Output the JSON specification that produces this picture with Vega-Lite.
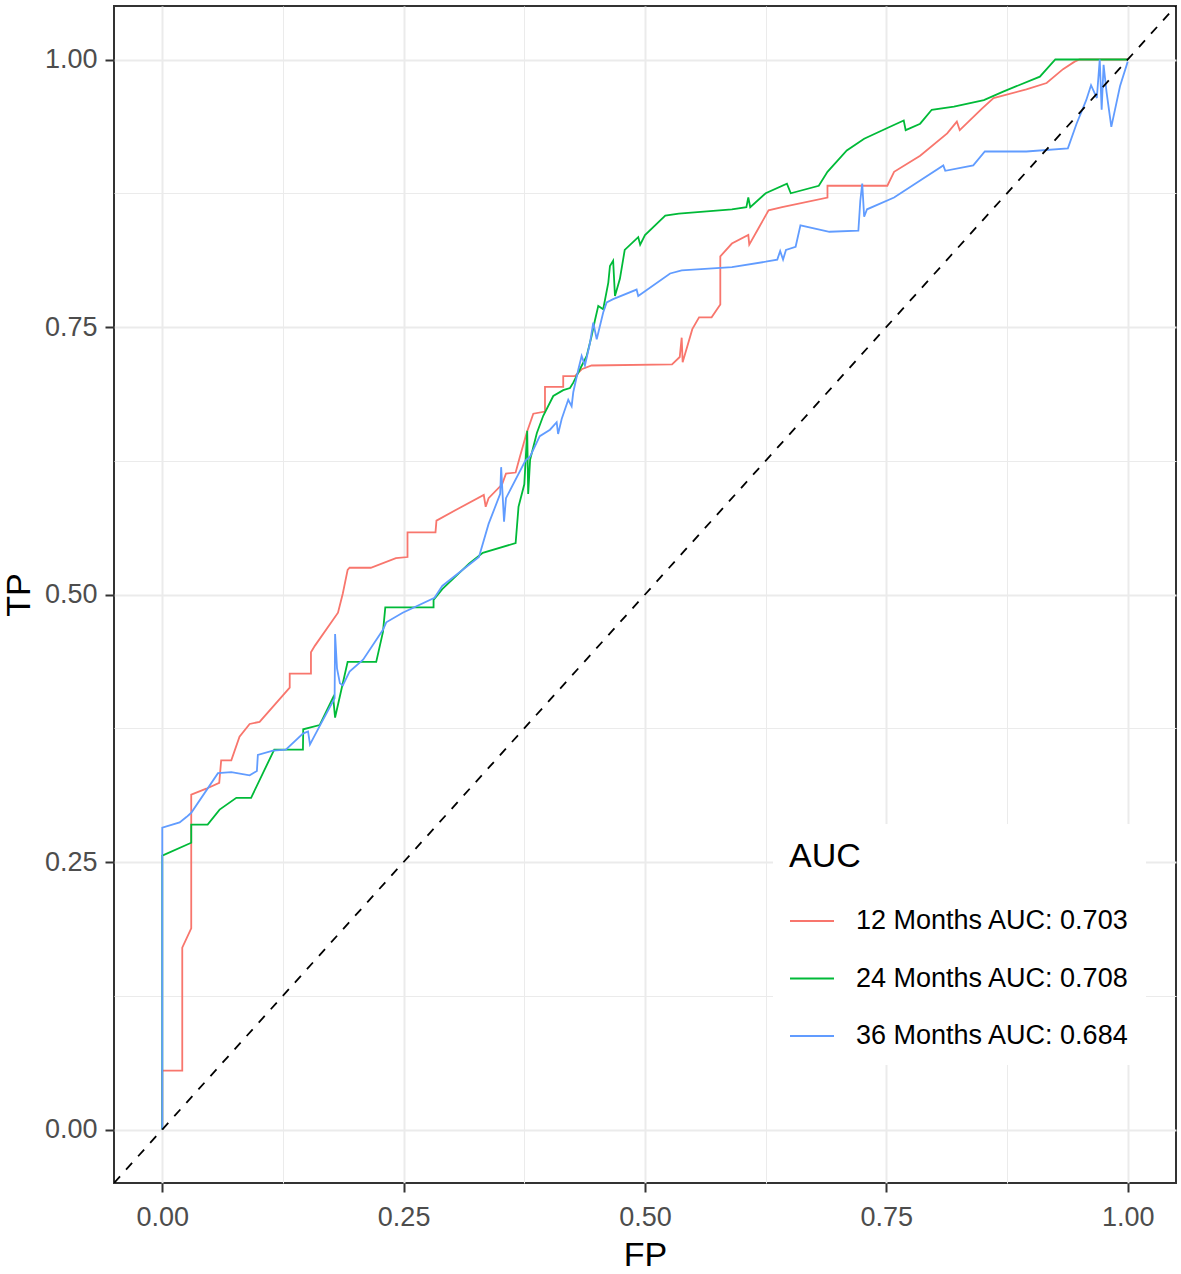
{
  "$schema": "https://vega.github.io/schema/vega-lite/v6.json",
  "width": 1062,
  "height": 1177,
  "autosize": {"type": "none"},
  "padding": {"left": 114, "top": 6, "right": 5, "bottom": 91},
  "background": "white",
  "config": {
    "font": "Liberation Sans",
    "view": {"stroke": "#333333", "strokeWidth": 2},
    "axis": {
      "domain": false,
      "grid": true,
      "gridColor": "#EBEBEB",
      "gridWidth": {"condition": {"test": "(datum.value * 4) % 1 !== 0", "value": 1}, "value": 2},
      "tickColor": "#333333",
      "tickWidth": 2,
      "tickSize": 9,
      "tickOpacity": {"condition": {"test": "(datum.value * 4) % 1 !== 0", "value": 0}, "value": 1},
      "labelExpr": "(datum.value * 4) % 1 === 0 ? format(datum.value, '.2f') : ''",
      "labelFontSize": 27,
      "labelColor": "#4D4D4D",
      "labelPadding": 8,
      "titleFontSize": 34,
      "titleFontWeight": "normal",
      "titleColor": "black"
    },
    "legend": {
      "orient": "none",
      "legendX": 659,
      "legendY": 818,
      "padding": 16,
      "fillColor": "white",
      "titleFontSize": 34,
      "titleFontWeight": "normal",
      "titleColor": "black",
      "titlePadding": 24,
      "labelFontSize": 27,
      "labelColor": "black",
      "labelLimit": 0,
      "labelOffset": 21,
      "symbolType": "stroke",
      "symbolSize": 1936,
      "symbolStrokeWidth": 2,
      "rowPadding": 21.5
    }
  },
  "datasets": {
    "roc": [
      {"model": "12 Months AUC: 0.703", "step": 1, "fp": 0, "tp": 0},
      {"model": "12 Months AUC: 0.703", "step": 2, "fp": 0, "tp": 0.055},
      {"model": "12 Months AUC: 0.703", "step": 3, "fp": 0.0207, "tp": 0.055},
      {"model": "12 Months AUC: 0.703", "step": 4, "fp": 0.0207, "tp": 0.17},
      {"model": "12 Months AUC: 0.703", "step": 5, "fp": 0.03, "tp": 0.188},
      {"model": "12 Months AUC: 0.703", "step": 6, "fp": 0.03, "tp": 0.313},
      {"model": "12 Months AUC: 0.703", "step": 7, "fp": 0.0456, "tp": 0.3185},
      {"model": "12 Months AUC: 0.703", "step": 8, "fp": 0.059, "tp": 0.324},
      {"model": "12 Months AUC: 0.703", "step": 9, "fp": 0.061, "tp": 0.345},
      {"model": "12 Months AUC: 0.703", "step": 10, "fp": 0.0715, "tp": 0.345},
      {"model": "12 Months AUC: 0.703", "step": 11, "fp": 0.08, "tp": 0.367},
      {"model": "12 Months AUC: 0.703", "step": 12, "fp": 0.0905, "tp": 0.379},
      {"model": "12 Months AUC: 0.703", "step": 13, "fp": 0.1008, "tp": 0.381},
      {"model": "12 Months AUC: 0.703", "step": 14, "fp": 0.132, "tp": 0.413},
      {"model": "12 Months AUC: 0.703", "step": 15, "fp": 0.132, "tp": 0.426},
      {"model": "12 Months AUC: 0.703", "step": 16, "fp": 0.154, "tp": 0.426},
      {"model": "12 Months AUC: 0.703", "step": 17, "fp": 0.154, "tp": 0.446},
      {"model": "12 Months AUC: 0.703", "step": 18, "fp": 0.158, "tp": 0.452},
      {"model": "12 Months AUC: 0.703", "step": 19, "fp": 0.182, "tp": 0.483},
      {"model": "12 Months AUC: 0.703", "step": 20, "fp": 0.187, "tp": 0.501},
      {"model": "12 Months AUC: 0.703", "step": 21, "fp": 0.192, "tp": 0.523},
      {"model": "12 Months AUC: 0.703", "step": 22, "fp": 0.194, "tp": 0.525},
      {"model": "12 Months AUC: 0.703", "step": 23, "fp": 0.216, "tp": 0.525},
      {"model": "12 Months AUC: 0.703", "step": 24, "fp": 0.242, "tp": 0.534},
      {"model": "12 Months AUC: 0.703", "step": 25, "fp": 0.254, "tp": 0.535},
      {"model": "12 Months AUC: 0.703", "step": 26, "fp": 0.254, "tp": 0.558},
      {"model": "12 Months AUC: 0.703", "step": 27, "fp": 0.283, "tp": 0.558},
      {"model": "12 Months AUC: 0.703", "step": 28, "fp": 0.284, "tp": 0.569},
      {"model": "12 Months AUC: 0.703", "step": 29, "fp": 0.304, "tp": 0.579},
      {"model": "12 Months AUC: 0.703", "step": 30, "fp": 0.333, "tp": 0.593},
      {"model": "12 Months AUC: 0.703", "step": 31, "fp": 0.335, "tp": 0.582},
      {"model": "12 Months AUC: 0.703", "step": 32, "fp": 0.338, "tp": 0.59},
      {"model": "12 Months AUC: 0.703", "step": 33, "fp": 0.352, "tp": 0.603},
      {"model": "12 Months AUC: 0.703", "step": 34, "fp": 0.356, "tp": 0.613},
      {"model": "12 Months AUC: 0.703", "step": 35, "fp": 0.366, "tp": 0.614},
      {"model": "12 Months AUC: 0.703", "step": 36, "fp": 0.3705, "tp": 0.629},
      {"model": "12 Months AUC: 0.703", "step": 37, "fp": 0.3774, "tp": 0.651},
      {"model": "12 Months AUC: 0.703", "step": 38, "fp": 0.3843, "tp": 0.669},
      {"model": "12 Months AUC: 0.703", "step": 39, "fp": 0.3964, "tp": 0.671},
      {"model": "12 Months AUC: 0.703", "step": 40, "fp": 0.3964, "tp": 0.694},
      {"model": "12 Months AUC: 0.703", "step": 41, "fp": 0.4153, "tp": 0.694},
      {"model": "12 Months AUC: 0.703", "step": 42, "fp": 0.4153, "tp": 0.704},
      {"model": "12 Months AUC: 0.703", "step": 43, "fp": 0.4274, "tp": 0.704},
      {"model": "12 Months AUC: 0.703", "step": 44, "fp": 0.4344, "tp": 0.7105},
      {"model": "12 Months AUC: 0.703", "step": 45, "fp": 0.4447, "tp": 0.714},
      {"model": "12 Months AUC: 0.703", "step": 46, "fp": 0.528, "tp": 0.715},
      {"model": "12 Months AUC: 0.703", "step": 47, "fp": 0.536, "tp": 0.722},
      {"model": "12 Months AUC: 0.703", "step": 48, "fp": 0.538, "tp": 0.74},
      {"model": "12 Months AUC: 0.703", "step": 49, "fp": 0.539, "tp": 0.717},
      {"model": "12 Months AUC: 0.703", "step": 50, "fp": 0.549, "tp": 0.748},
      {"model": "12 Months AUC: 0.703", "step": 51, "fp": 0.556, "tp": 0.759},
      {"model": "12 Months AUC: 0.703", "step": 52, "fp": 0.569, "tp": 0.759},
      {"model": "12 Months AUC: 0.703", "step": 53, "fp": 0.578, "tp": 0.771},
      {"model": "12 Months AUC: 0.703", "step": 54, "fp": 0.578, "tp": 0.816},
      {"model": "12 Months AUC: 0.703", "step": 55, "fp": 0.59, "tp": 0.828},
      {"model": "12 Months AUC: 0.703", "step": 56, "fp": 0.607, "tp": 0.836},
      {"model": "12 Months AUC: 0.703", "step": 57, "fp": 0.608, "tp": 0.827},
      {"model": "12 Months AUC: 0.703", "step": 58, "fp": 0.618, "tp": 0.843},
      {"model": "12 Months AUC: 0.703", "step": 59, "fp": 0.628, "tp": 0.859},
      {"model": "12 Months AUC: 0.703", "step": 60, "fp": 0.642, "tp": 0.862},
      {"model": "12 Months AUC: 0.703", "step": 61, "fp": 0.689, "tp": 0.871},
      {"model": "12 Months AUC: 0.703", "step": 62, "fp": 0.689, "tp": 0.882},
      {"model": "12 Months AUC: 0.703", "step": 63, "fp": 0.751, "tp": 0.882},
      {"model": "12 Months AUC: 0.703", "step": 64, "fp": 0.758, "tp": 0.895},
      {"model": "12 Months AUC: 0.703", "step": 65, "fp": 0.785, "tp": 0.91},
      {"model": "12 Months AUC: 0.703", "step": 66, "fp": 0.813, "tp": 0.931},
      {"model": "12 Months AUC: 0.703", "step": 67, "fp": 0.823, "tp": 0.942},
      {"model": "12 Months AUC: 0.703", "step": 68, "fp": 0.826, "tp": 0.934},
      {"model": "12 Months AUC: 0.703", "step": 69, "fp": 0.849, "tp": 0.954},
      {"model": "12 Months AUC: 0.703", "step": 70, "fp": 0.861, "tp": 0.964},
      {"model": "12 Months AUC: 0.703", "step": 71, "fp": 0.895, "tp": 0.972},
      {"model": "12 Months AUC: 0.703", "step": 72, "fp": 0.916, "tp": 0.978},
      {"model": "12 Months AUC: 0.703", "step": 73, "fp": 0.933, "tp": 0.991},
      {"model": "12 Months AUC: 0.703", "step": 74, "fp": 0.945, "tp": 0.998},
      {"model": "12 Months AUC: 0.703", "step": 75, "fp": 0.95, "tp": 1},
      {"model": "12 Months AUC: 0.703", "step": 76, "fp": 1, "tp": 1},

      {"model": "24 Months AUC: 0.708", "step": 1, "fp": 0, "tp": 0},
      {"model": "24 Months AUC: 0.708", "step": 2, "fp": 0, "tp": 0.256},
      {"model": "24 Months AUC: 0.708", "step": 3, "fp": 0.03, "tp": 0.268},
      {"model": "24 Months AUC: 0.708", "step": 4, "fp": 0.03, "tp": 0.285},
      {"model": "24 Months AUC: 0.708", "step": 5, "fp": 0.047, "tp": 0.285},
      {"model": "24 Months AUC: 0.708", "step": 6, "fp": 0.0594, "tp": 0.299},
      {"model": "24 Months AUC: 0.708", "step": 7, "fp": 0.0767, "tp": 0.31},
      {"model": "24 Months AUC: 0.708", "step": 8, "fp": 0.092, "tp": 0.31},
      {"model": "24 Months AUC: 0.708", "step": 9, "fp": 0.1146, "tp": 0.3525},
      {"model": "24 Months AUC: 0.708", "step": 10, "fp": 0.116, "tp": 0.355},
      {"model": "24 Months AUC: 0.708", "step": 11, "fp": 0.1457, "tp": 0.355},
      {"model": "24 Months AUC: 0.708", "step": 12, "fp": 0.146, "tp": 0.374},
      {"model": "24 Months AUC: 0.708", "step": 13, "fp": 0.163, "tp": 0.378},
      {"model": "24 Months AUC: 0.708", "step": 14, "fp": 0.177, "tp": 0.404},
      {"model": "24 Months AUC: 0.708", "step": 15, "fp": 0.179, "tp": 0.385},
      {"model": "24 Months AUC: 0.708", "step": 16, "fp": 0.187, "tp": 0.417},
      {"model": "24 Months AUC: 0.708", "step": 17, "fp": 0.192, "tp": 0.437},
      {"model": "24 Months AUC: 0.708", "step": 18, "fp": 0.2216, "tp": 0.437},
      {"model": "24 Months AUC: 0.708", "step": 19, "fp": 0.2286, "tp": 0.465},
      {"model": "24 Months AUC: 0.708", "step": 20, "fp": 0.231, "tp": 0.488},
      {"model": "24 Months AUC: 0.708", "step": 21, "fp": 0.281, "tp": 0.488},
      {"model": "24 Months AUC: 0.708", "step": 22, "fp": 0.281, "tp": 0.495},
      {"model": "24 Months AUC: 0.708", "step": 23, "fp": 0.29, "tp": 0.505},
      {"model": "24 Months AUC: 0.708", "step": 24, "fp": 0.318, "tp": 0.529},
      {"model": "24 Months AUC: 0.708", "step": 25, "fp": 0.332, "tp": 0.539},
      {"model": "24 Months AUC: 0.708", "step": 26, "fp": 0.366, "tp": 0.548},
      {"model": "24 Months AUC: 0.708", "step": 27, "fp": 0.369, "tp": 0.582},
      {"model": "24 Months AUC: 0.708", "step": 28, "fp": 0.375, "tp": 0.603},
      {"model": "24 Months AUC: 0.708", "step": 29, "fp": 0.378, "tp": 0.653},
      {"model": "24 Months AUC: 0.708", "step": 30, "fp": 0.379, "tp": 0.594},
      {"model": "24 Months AUC: 0.708", "step": 31, "fp": 0.381, "tp": 0.626},
      {"model": "24 Months AUC: 0.708", "step": 32, "fp": 0.388, "tp": 0.651},
      {"model": "24 Months AUC: 0.708", "step": 33, "fp": 0.3946, "tp": 0.667},
      {"model": "24 Months AUC: 0.708", "step": 34, "fp": 0.405, "tp": 0.6855},
      {"model": "24 Months AUC: 0.708", "step": 35, "fp": 0.4153, "tp": 0.691},
      {"model": "24 Months AUC: 0.708", "step": 36, "fp": 0.4223, "tp": 0.693},
      {"model": "24 Months AUC: 0.708", "step": 37, "fp": 0.4257, "tp": 0.698},
      {"model": "24 Months AUC: 0.708", "step": 38, "fp": 0.4326, "tp": 0.7105},
      {"model": "24 Months AUC: 0.708", "step": 39, "fp": 0.4396, "tp": 0.723},
      {"model": "24 Months AUC: 0.708", "step": 40, "fp": 0.4447, "tp": 0.7416},
      {"model": "24 Months AUC: 0.708", "step": 41, "fp": 0.448, "tp": 0.7556},
      {"model": "24 Months AUC: 0.708", "step": 42, "fp": 0.4516, "tp": 0.7697},
      {"model": "24 Months AUC: 0.708", "step": 43, "fp": 0.4567, "tp": 0.7666},
      {"model": "24 Months AUC: 0.708", "step": 44, "fp": 0.462, "tp": 0.7915},
      {"model": "24 Months AUC: 0.708", "step": 45, "fp": 0.4637, "tp": 0.807},
      {"model": "24 Months AUC: 0.708", "step": 46, "fp": 0.467, "tp": 0.812},
      {"model": "24 Months AUC: 0.708", "step": 47, "fp": 0.4689, "tp": 0.779},
      {"model": "24 Months AUC: 0.708", "step": 48, "fp": 0.474, "tp": 0.795},
      {"model": "24 Months AUC: 0.708", "step": 49, "fp": 0.479, "tp": 0.822},
      {"model": "24 Months AUC: 0.708", "step": 50, "fp": 0.493, "tp": 0.834},
      {"model": "24 Months AUC: 0.708", "step": 51, "fp": 0.495, "tp": 0.827},
      {"model": "24 Months AUC: 0.708", "step": 52, "fp": 0.5, "tp": 0.836},
      {"model": "24 Months AUC: 0.708", "step": 53, "fp": 0.521, "tp": 0.854},
      {"model": "24 Months AUC: 0.708", "step": 54, "fp": 0.535, "tp": 0.856},
      {"model": "24 Months AUC: 0.708", "step": 55, "fp": 0.59, "tp": 0.86},
      {"model": "24 Months AUC: 0.708", "step": 56, "fp": 0.605, "tp": 0.862},
      {"model": "24 Months AUC: 0.708", "step": 57, "fp": 0.607, "tp": 0.871},
      {"model": "24 Months AUC: 0.708", "step": 58, "fp": 0.609, "tp": 0.862},
      {"model": "24 Months AUC: 0.708", "step": 59, "fp": 0.625, "tp": 0.875},
      {"model": "24 Months AUC: 0.708", "step": 60, "fp": 0.647, "tp": 0.884},
      {"model": "24 Months AUC: 0.708", "step": 61, "fp": 0.651, "tp": 0.875},
      {"model": "24 Months AUC: 0.708", "step": 62, "fp": 0.68, "tp": 0.882},
      {"model": "24 Months AUC: 0.708", "step": 63, "fp": 0.689, "tp": 0.895},
      {"model": "24 Months AUC: 0.708", "step": 64, "fp": 0.709, "tp": 0.915},
      {"model": "24 Months AUC: 0.708", "step": 65, "fp": 0.727, "tp": 0.926},
      {"model": "24 Months AUC: 0.708", "step": 66, "fp": 0.751, "tp": 0.936},
      {"model": "24 Months AUC: 0.708", "step": 67, "fp": 0.768, "tp": 0.943},
      {"model": "24 Months AUC: 0.708", "step": 68, "fp": 0.77, "tp": 0.934},
      {"model": "24 Months AUC: 0.708", "step": 69, "fp": 0.785, "tp": 0.94},
      {"model": "24 Months AUC: 0.708", "step": 70, "fp": 0.797, "tp": 0.953},
      {"model": "24 Months AUC: 0.708", "step": 71, "fp": 0.82, "tp": 0.956},
      {"model": "24 Months AUC: 0.708", "step": 72, "fp": 0.851, "tp": 0.962},
      {"model": "24 Months AUC: 0.708", "step": 73, "fp": 0.871, "tp": 0.97},
      {"model": "24 Months AUC: 0.708", "step": 74, "fp": 0.909, "tp": 0.984},
      {"model": "24 Months AUC: 0.708", "step": 75, "fp": 0.925, "tp": 1},
      {"model": "24 Months AUC: 0.708", "step": 76, "fp": 1, "tp": 1},

      {"model": "36 Months AUC: 0.684", "step": 1, "fp": 0, "tp": 0},
      {"model": "36 Months AUC: 0.684", "step": 2, "fp": 0, "tp": 0.282},
      {"model": "36 Months AUC: 0.684", "step": 3, "fp": 0.018, "tp": 0.287},
      {"model": "36 Months AUC: 0.684", "step": 4, "fp": 0.025, "tp": 0.292},
      {"model": "36 Months AUC: 0.684", "step": 5, "fp": 0.03, "tp": 0.296},
      {"model": "36 Months AUC: 0.684", "step": 6, "fp": 0.0577, "tp": 0.333},
      {"model": "36 Months AUC: 0.684", "step": 7, "fp": 0.0715, "tp": 0.334},
      {"model": "36 Months AUC: 0.684", "step": 8, "fp": 0.0905, "tp": 0.331},
      {"model": "36 Months AUC: 0.684", "step": 9, "fp": 0.098, "tp": 0.335},
      {"model": "36 Months AUC: 0.684", "step": 10, "fp": 0.099, "tp": 0.35},
      {"model": "36 Months AUC: 0.684", "step": 11, "fp": 0.1146, "tp": 0.354},
      {"model": "36 Months AUC: 0.684", "step": 12, "fp": 0.128, "tp": 0.355},
      {"model": "36 Months AUC: 0.684", "step": 13, "fp": 0.1457, "tp": 0.37},
      {"model": "36 Months AUC: 0.684", "step": 14, "fp": 0.151, "tp": 0.372},
      {"model": "36 Months AUC: 0.684", "step": 15, "fp": 0.153, "tp": 0.36},
      {"model": "36 Months AUC: 0.684", "step": 16, "fp": 0.163, "tp": 0.377},
      {"model": "36 Months AUC: 0.684", "step": 17, "fp": 0.1785, "tp": 0.403},
      {"model": "36 Months AUC: 0.684", "step": 18, "fp": 0.179, "tp": 0.463},
      {"model": "36 Months AUC: 0.684", "step": 19, "fp": 0.181, "tp": 0.431},
      {"model": "36 Months AUC: 0.684", "step": 20, "fp": 0.184, "tp": 0.417},
      {"model": "36 Months AUC: 0.684", "step": 21, "fp": 0.187, "tp": 0.415},
      {"model": "36 Months AUC: 0.684", "step": 22, "fp": 0.194, "tp": 0.428},
      {"model": "36 Months AUC: 0.684", "step": 23, "fp": 0.208, "tp": 0.439},
      {"model": "36 Months AUC: 0.684", "step": 24, "fp": 0.2286, "tp": 0.467},
      {"model": "36 Months AUC: 0.684", "step": 25, "fp": 0.232, "tp": 0.474},
      {"model": "36 Months AUC: 0.684", "step": 26, "fp": 0.249, "tp": 0.483},
      {"model": "36 Months AUC: 0.684", "step": 27, "fp": 0.282, "tp": 0.497},
      {"model": "36 Months AUC: 0.684", "step": 28, "fp": 0.29, "tp": 0.508},
      {"model": "36 Months AUC: 0.684", "step": 29, "fp": 0.328, "tp": 0.535},
      {"model": "36 Months AUC: 0.684", "step": 30, "fp": 0.338, "tp": 0.566},
      {"model": "36 Months AUC: 0.684", "step": 31, "fp": 0.35, "tp": 0.594},
      {"model": "36 Months AUC: 0.684", "step": 32, "fp": 0.351, "tp": 0.619},
      {"model": "36 Months AUC: 0.684", "step": 33, "fp": 0.354, "tp": 0.568},
      {"model": "36 Months AUC: 0.684", "step": 34, "fp": 0.356, "tp": 0.59},
      {"model": "36 Months AUC: 0.684", "step": 35, "fp": 0.376, "tp": 0.625},
      {"model": "36 Months AUC: 0.684", "step": 36, "fp": 0.381, "tp": 0.629},
      {"model": "36 Months AUC: 0.684", "step": 37, "fp": 0.391, "tp": 0.648},
      {"model": "36 Months AUC: 0.684", "step": 38, "fp": 0.4016, "tp": 0.654},
      {"model": "36 Months AUC: 0.684", "step": 39, "fp": 0.4085, "tp": 0.661},
      {"model": "36 Months AUC: 0.684", "step": 40, "fp": 0.41, "tp": 0.65},
      {"model": "36 Months AUC: 0.684", "step": 41, "fp": 0.4137, "tp": 0.664},
      {"model": "36 Months AUC: 0.684", "step": 42, "fp": 0.4205, "tp": 0.682},
      {"model": "36 Months AUC: 0.684", "step": 43, "fp": 0.424, "tp": 0.676},
      {"model": "36 Months AUC: 0.684", "step": 44, "fp": 0.4257, "tp": 0.689},
      {"model": "36 Months AUC: 0.684", "step": 45, "fp": 0.431, "tp": 0.7105},
      {"model": "36 Months AUC: 0.684", "step": 46, "fp": 0.4344, "tp": 0.723},
      {"model": "36 Months AUC: 0.684", "step": 47, "fp": 0.4378, "tp": 0.714},
      {"model": "36 Months AUC: 0.684", "step": 48, "fp": 0.443, "tp": 0.735},
      {"model": "36 Months AUC: 0.684", "step": 49, "fp": 0.4464, "tp": 0.754},
      {"model": "36 Months AUC: 0.684", "step": 50, "fp": 0.45, "tp": 0.7385},
      {"model": "36 Months AUC: 0.684", "step": 51, "fp": 0.4533, "tp": 0.751},
      {"model": "36 Months AUC: 0.684", "step": 52, "fp": 0.4567, "tp": 0.7635},
      {"model": "36 Months AUC: 0.684", "step": 53, "fp": 0.4603, "tp": 0.773},
      {"model": "36 Months AUC: 0.684", "step": 54, "fp": 0.467, "tp": 0.776},
      {"model": "36 Months AUC: 0.684", "step": 55, "fp": 0.4913, "tp": 0.785},
      {"model": "36 Months AUC: 0.684", "step": 56, "fp": 0.493, "tp": 0.779},
      {"model": "36 Months AUC: 0.684", "step": 57, "fp": 0.526, "tp": 0.8},
      {"model": "36 Months AUC: 0.684", "step": 58, "fp": 0.538, "tp": 0.803},
      {"model": "36 Months AUC: 0.684", "step": 59, "fp": 0.59, "tp": 0.806},
      {"model": "36 Months AUC: 0.684", "step": 60, "fp": 0.625, "tp": 0.811},
      {"model": "36 Months AUC: 0.684", "step": 61, "fp": 0.637, "tp": 0.813},
      {"model": "36 Months AUC: 0.684", "step": 62, "fp": 0.64, "tp": 0.821},
      {"model": "36 Months AUC: 0.684", "step": 63, "fp": 0.643, "tp": 0.813},
      {"model": "36 Months AUC: 0.684", "step": 64, "fp": 0.646, "tp": 0.822},
      {"model": "36 Months AUC: 0.684", "step": 65, "fp": 0.656, "tp": 0.825},
      {"model": "36 Months AUC: 0.684", "step": 66, "fp": 0.661, "tp": 0.845},
      {"model": "36 Months AUC: 0.684", "step": 67, "fp": 0.691, "tp": 0.839},
      {"model": "36 Months AUC: 0.684", "step": 68, "fp": 0.721, "tp": 0.84},
      {"model": "36 Months AUC: 0.684", "step": 69, "fp": 0.723, "tp": 0.868},
      {"model": "36 Months AUC: 0.684", "step": 70, "fp": 0.725, "tp": 0.884},
      {"model": "36 Months AUC: 0.684", "step": 71, "fp": 0.727, "tp": 0.853},
      {"model": "36 Months AUC: 0.684", "step": 72, "fp": 0.73, "tp": 0.86},
      {"model": "36 Months AUC: 0.684", "step": 73, "fp": 0.758, "tp": 0.871},
      {"model": "36 Months AUC: 0.684", "step": 74, "fp": 0.785, "tp": 0.887},
      {"model": "36 Months AUC: 0.684", "step": 75, "fp": 0.809, "tp": 0.901},
      {"model": "36 Months AUC: 0.684", "step": 76, "fp": 0.811, "tp": 0.896},
      {"model": "36 Months AUC: 0.684", "step": 77, "fp": 0.84, "tp": 0.901},
      {"model": "36 Months AUC: 0.684", "step": 78, "fp": 0.852, "tp": 0.914},
      {"model": "36 Months AUC: 0.684", "step": 79, "fp": 0.895, "tp": 0.914},
      {"model": "36 Months AUC: 0.684", "step": 80, "fp": 0.938, "tp": 0.917},
      {"model": "36 Months AUC: 0.684", "step": 81, "fp": 0.947, "tp": 0.94},
      {"model": "36 Months AUC: 0.684", "step": 82, "fp": 0.957, "tp": 0.962},
      {"model": "36 Months AUC: 0.684", "step": 83, "fp": 0.962, "tp": 0.976},
      {"model": "36 Months AUC: 0.684", "step": 84, "fp": 0.968, "tp": 0.964},
      {"model": "36 Months AUC: 0.684", "step": 85, "fp": 0.971, "tp": 1},
      {"model": "36 Months AUC: 0.684", "step": 86, "fp": 0.973, "tp": 0.953},
      {"model": "36 Months AUC: 0.684", "step": 87, "fp": 0.975, "tp": 0.995},
      {"model": "36 Months AUC: 0.684", "step": 88, "fp": 0.978, "tp": 0.97},
      {"model": "36 Months AUC: 0.684", "step": 89, "fp": 0.983, "tp": 0.937},
      {"model": "36 Months AUC: 0.684", "step": 90, "fp": 0.992, "tp": 0.975},
      {"model": "36 Months AUC: 0.684", "step": 91, "fp": 1, "tp": 0.998}
    ],
    "diagonal": [
      {"fp": -0.05, "tp": -0.05},
      {"fp": 1.05, "tp": 1.05}
    ]
  },
  "encoding": {
    "x": {
      "field": "fp",
      "type": "quantitative",
      "title": "FP",
      "scale": {"domain": [-0.05, 1.05], "nice": false, "zero": false},
      "axis": {"values": [0, 0.125, 0.25, 0.375, 0.5, 0.625, 0.75, 0.875, 1], "labelPadding": 12, "titlePadding": 8}
    },
    "y": {
      "field": "tp",
      "type": "quantitative",
      "title": "TP",
      "scale": {"domain": [-0.05, 1.05], "nice": false, "zero": false},
      "axis": {"values": [0, 0.125, 0.25, 0.375, 0.5, 0.625, 0.75, 0.875, 1], "titlePadding": 8}
    }
  },
  "layer": [
    {
      "data": {"name": "roc"},
      "mark": {"type": "line", "strokeWidth": 1.8, "clip": true},
      "encoding": {
        "color": {
          "field": "model",
          "type": "nominal",
          "title": "AUC",
          "scale": {
            "domain": ["12 Months AUC: 0.703", "24 Months AUC: 0.708", "36 Months AUC: 0.684"],
            "range": ["#F8766D", "#00BA38", "#619CFF"]
          }
        },
        "order": {"field": "step", "type": "quantitative"}
      }
    },
    {
      "data": {"name": "diagonal"},
      "mark": {"type": "line", "color": "black", "strokeWidth": 1.8, "strokeDash": [9, 9], "clip": true},
      "encoding": {}
    }
  ]
}
